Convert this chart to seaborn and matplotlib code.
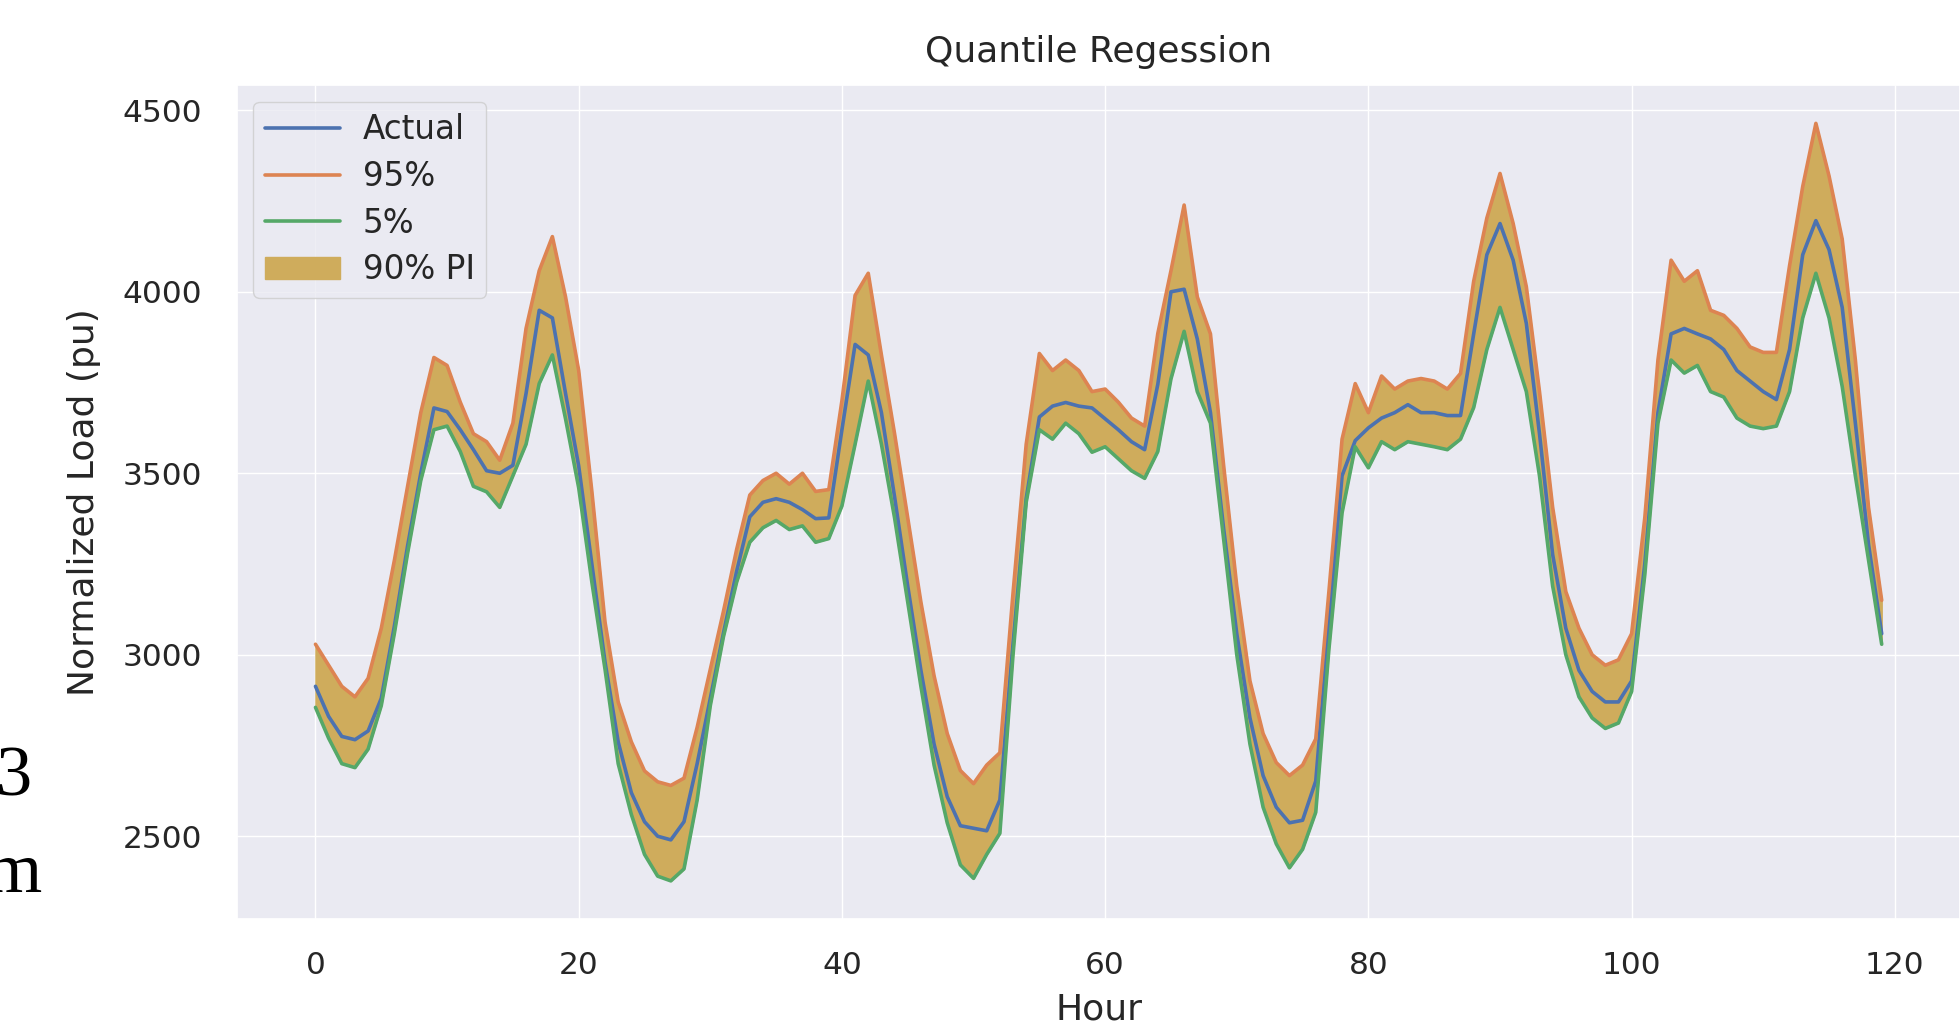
import numpy as np
import pandas as pd
import matplotlib
matplotlib.use("Agg")
import matplotlib.pyplot as plt
import seaborn as sns

hours = list(range(120))

actual = [
    2913, 2830, 2775, 2766, 2790, 2880, 3080, 3300, 3500, 3680,
    3670, 3620, 3565, 3507, 3500, 3522, 3720, 3949, 3928, 3720,
    3520, 3250, 2980, 2760, 2620, 2540, 2500, 2490, 2540, 2700,
    2880, 3060, 3230, 3380, 3420, 3430, 3420, 3400, 3375, 3377,
    3620, 3855, 3826, 3667, 3435, 3189, 2957, 2754, 2609, 2529,
    2522, 2515, 2600, 3030, 3430, 3655, 3685, 3695, 3685, 3680,
    3650, 3620, 3587, 3565, 3745, 4000, 4007, 3870, 3667, 3348,
    3058, 2826, 2667, 2580, 2537, 2544, 2652, 3087, 3493, 3590,
    3625, 3652, 3667, 3689, 3667, 3667, 3659, 3659, 3884, 4102,
    4188, 4087, 3913, 3609, 3276, 3073, 2957, 2899, 2870, 2870,
    2928, 3250, 3667, 3884, 3899, 3884, 3870, 3841, 3783, 3754,
    3725, 3703, 3841, 4102, 4196, 4116, 3957, 3638, 3304, 3058,
]

q95 = [
    3029, 2971, 2913, 2884, 2935, 3073, 3261, 3464, 3667, 3819,
    3797, 3696, 3609, 3587, 3536, 3638, 3899, 4058, 4152, 3986,
    3783, 3450, 3090, 2870, 2760, 2680, 2650, 2640, 2660, 2800,
    2960, 3120, 3290, 3440, 3480, 3500, 3470, 3500, 3450, 3455,
    3700, 3990, 4051, 3826, 3609, 3377, 3145, 2942, 2783, 2681,
    2645, 2696, 2730, 3170, 3580, 3830, 3783, 3812, 3783, 3725,
    3732, 3696, 3652, 3630, 3885, 4058, 4239, 3986, 3884, 3522,
    3189, 2928, 2783, 2703, 2667, 2696, 2768, 3174, 3594, 3747,
    3667, 3768, 3732, 3754, 3761, 3754, 3732, 3775, 4029, 4203,
    4326, 4188, 4014, 3725, 3406, 3174, 3073, 3000, 2971, 2986,
    3058, 3377, 3812, 4087, 4029, 4058, 3949, 3935, 3899, 3848,
    3833, 3833, 4072, 4290, 4464, 4319, 4145, 3812, 3406, 3150,
]

q05 = [
    2855, 2770, 2700, 2689, 2740, 2860, 3060, 3280, 3480, 3620,
    3630, 3560, 3464, 3449, 3406, 3493, 3580, 3747, 3826, 3650,
    3460, 3200, 2960, 2700, 2560, 2450, 2390, 2377, 2410, 2600,
    2860, 3050, 3200, 3310, 3350, 3370, 3345, 3355, 3310, 3320,
    3410, 3580, 3754, 3580, 3377, 3145, 2913, 2696, 2537, 2421,
    2384, 2450, 2508, 3000, 3420, 3620, 3594, 3638, 3609, 3558,
    3573, 3540, 3507, 3486, 3560, 3760, 3891, 3725, 3638, 3319,
    3000, 2754, 2580, 2479, 2413, 2464, 2566, 3015, 3391, 3573,
    3515, 3587, 3565, 3587, 3580, 3573, 3565, 3594, 3681, 3841,
    3957, 3841, 3725, 3493, 3189, 3000, 2884, 2826, 2797, 2812,
    2899, 3220, 3638, 3812, 3776, 3797, 3725, 3710, 3652, 3630,
    3623, 3630, 3725, 3928, 4051, 3928, 3739, 3493, 3261, 3029,
]

series_labels = ["Actual", "95%", "5%", "90% PI"]

sns.set_theme(style="darkgrid")
plt.rcParams['font.family'] = ['DejaVu Sans']

fig = plt.figure(figsize=(19.6, 10.3), dpi=100)
ax = fig.add_axes([0.121, 0.108, 0.879, 0.809])

pal = sns.color_palette("deep")
df = pd.DataFrame({"Hour": hours, "Actual": actual, "q95": q95, "q05": q05})

sns.lineplot(data=df, x="Hour", y="Actual", ax=ax, color=pal[0], lw=2.6, label=series_labels[0])
sns.lineplot(data=df, x="Hour", y="q95", ax=ax, color=pal[1], lw=2.6, label=series_labels[1])
sns.lineplot(data=df, x="Hour", y="q05", ax=ax, color=pal[2], lw=2.6, label=series_labels[2])
ax.fill_between(df["Hour"], df["q05"], df["q95"], color="#cfac5c", label=series_labels[3])

ax.set_title("Quantile Regession", fontsize=26, pad=17)
ax.set_xlabel("Hour", fontsize=26, labelpad=9.5)
ax.set_ylabel("Normalized Load (pu)", fontsize=26, labelpad=16)
ax.set_xticks([0, 20, 40, 60, 80, 100, 120])
ax.set_yticks([2500, 3000, 3500, 4000, 4500])
ax.tick_params(axis="x", labelsize=22.5, length=0, pad=23)
ax.tick_params(axis="y", labelsize=22.5, length=0, pad=25)
ax.legend(loc="upper left", fontsize=23.5, frameon=True, handlelength=2.3,
          handletextpad=0.7, labelspacing=0.42, borderpad=0.35)

fig.text(33 / 1960, 1 - 795 / 1030, "13", fontsize=52, family="Liberation Serif",
         ha="right", va="baseline", color="black")
fig.text(42 / 1960, 1 - 892 / 1030, "m", fontsize=52, family="Liberation Serif",
         ha="right", va="baseline", color="black")

fig.savefig("out.png", dpi=100)
